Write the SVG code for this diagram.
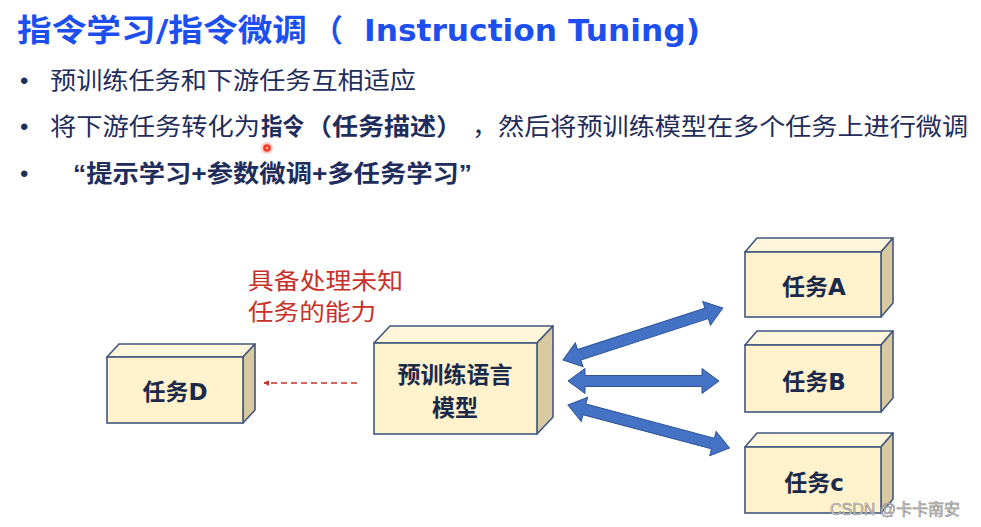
<svg xmlns="http://www.w3.org/2000/svg" width="981" height="527" viewBox="0 0 981 527">
<defs>
<style>
.cjk{font-family:"Liberation Sans","Noto Sans CJK SC",sans-serif;}
.title{font-family:"DejaVu Sans","Noto Sans CJK SC",sans-serif;font-weight:bold;font-size:31px;fill:#1d4ff0;}
.body{font-size:24px;fill:#1f2d5c;}
.b{font-weight:bold;}
.red{font-size:23px;fill:#c8302a;}
.front{fill:#fff2cc;stroke:#42587f;stroke-width:1.6;}
.top{fill:#fff6dc;stroke:#42587f;stroke-width:1.6;stroke-linejoin:round;}
.side{fill:#d9c9a0;stroke:#42587f;stroke-width:1.6;stroke-linejoin:round;}
.lbl{font-family:"DejaVu Sans","Noto Sans CJK SC",sans-serif;font-weight:bold;font-size:23px;fill:#1b2a4a;text-anchor:middle;}
.dbl{fill:#4472c4;stroke:#2f5597;stroke-width:1;}
</style>
<marker id="redhead" viewBox="0 0 10 10" refX="9" refY="5" markerWidth="6" markerHeight="6" orient="auto-start-reverse" markerUnits="userSpaceOnUse">
<path d="M0,0 L10,5 L0,10 z" fill="#c8302a"/>
</marker>
</defs>
<rect width="981" height="527" fill="#ffffff"/>

<g id="title">
<text class="title" y="41"><tspan x="17" textLength="290" lengthAdjust="spacingAndGlyphs">指令学习/指令微调</tspan><tspan x="312">（</tspan><tspan x="364" textLength="336" lengthAdjust="spacingAndGlyphs">Instruction Tuning)</tspan></text>
</g>

<g id="bullets" class="cjk body">
<text x="20" y="89">•</text>
<text x="50" y="89" textLength="366" lengthAdjust="spacingAndGlyphs">预训练任务和下游任务互相适应</text>
<text x="20" y="135">•</text>
<text y="135"><tspan x="50" textLength="210" lengthAdjust="spacingAndGlyphs">将下游任务转化为</tspan><tspan class="b" x="261" textLength="43" lengthAdjust="spacingAndGlyphs">指令</tspan><tspan class="b" x="306" textLength="156" lengthAdjust="spacingAndGlyphs">（任务描述）</tspan><tspan x="472" textLength="496" lengthAdjust="spacingAndGlyphs">，然后将预训练模型在多个任务上进行微调</tspan></text>
<text x="20" y="182">•</text>
<text class="b" x="73" y="182" textLength="399" lengthAdjust="spacingAndGlyphs">“提示学习+参数微调+多任务学习”</text>
</g>

<circle cx="267" cy="148" r="6" fill="#ff6b5a" opacity="0.35"/>
<circle cx="267" cy="148" r="3.8" fill="#f03a2a"/>
<circle cx="267" cy="148" r="1.6" fill="#ff9a80"/>

<g id="note" class="cjk red">
<text x="248" y="289" textLength="155" lengthAdjust="spacingAndGlyphs">具备处理未知</text>
<text x="248" y="320" textLength="128" lengthAdjust="spacingAndGlyphs">任务的能力</text>
</g>

<g id="connectors">
<line x1="357" y1="383" x2="264" y2="383" stroke="#c8302a" stroke-width="1.5" stroke-dasharray="6,4" marker-end="url(#redhead)"/>
<polygon class="dbl" transform="translate(563,360) rotate(-18)" points="0,0 17,-12.5 17,-5.5 151,-5.5 151,-12.5 168,0 151,12.5 151,5.5 17,5.5 17,12.5"/>
<polygon class="dbl" transform="translate(568,381)" points="0,0 17,-12.5 17,-5.5 134,-5.5 134,-12.5 151,0 134,12.5 134,5.5 17,5.5 17,12.5"/>
<polygon class="dbl" transform="translate(568,405) rotate(14.9)" points="0,0 17,-12.5 17,-5.5 150,-5.5 150,-12.5 167,0 150,12.5 150,5.5 17,5.5 17,12.5"/>
</g>

<g id="taskD">
<polygon class="top" points="107,357 119,344 255,344 243,357"/>
<polygon class="side" points="243,357 255,344 255,410 243,423"/>
<rect class="front" x="107" y="357" width="136" height="66"/>
<text class="lbl" x="175" y="400">任务D</text>
</g>

<g id="model">
<polygon class="top" points="374,343 390,326 553,326 537,343"/>
<polygon class="side" points="537,343 553,326 553,417 537,434"/>
<rect class="front" x="374" y="343" width="163" height="91"/>
<text class="lbl" x="455" y="383">预训练语言</text>
<text class="lbl" x="455" y="416">模型</text>
</g>

<g id="taskA">
<polygon class="top" points="745,252 757,238 893,238 881,252"/>
<polygon class="side" points="881,252 893,238 893,303 881,317"/>
<rect class="front" x="745" y="252" width="136" height="65"/>
<text class="lbl" x="814" y="295">任务A</text>
</g>

<g id="taskB">
<polygon class="top" points="745,345 757,331 893,331 881,345"/>
<polygon class="side" points="881,345 893,331 893,398 881,412"/>
<rect class="front" x="745" y="345" width="136" height="67"/>
<text class="lbl" x="814" y="390">任务B</text>
</g>

<g id="taskC">
<polygon class="top" points="745,447 757,433 893,433 881,447"/>
<polygon class="side" points="881,447 893,433 893,499 881,513"/>
<rect class="front" x="745" y="447" width="136" height="66"/>
<text class="lbl" x="814" y="491">任务c</text>
</g>

<text x="830" y="515" font-family="'Liberation Sans','Noto Sans CJK SC',sans-serif" font-size="16" fill="#d8d8d8" stroke="#8c8c8c" stroke-width="0.6">CSDN @卡卡南安</text>
</svg>
